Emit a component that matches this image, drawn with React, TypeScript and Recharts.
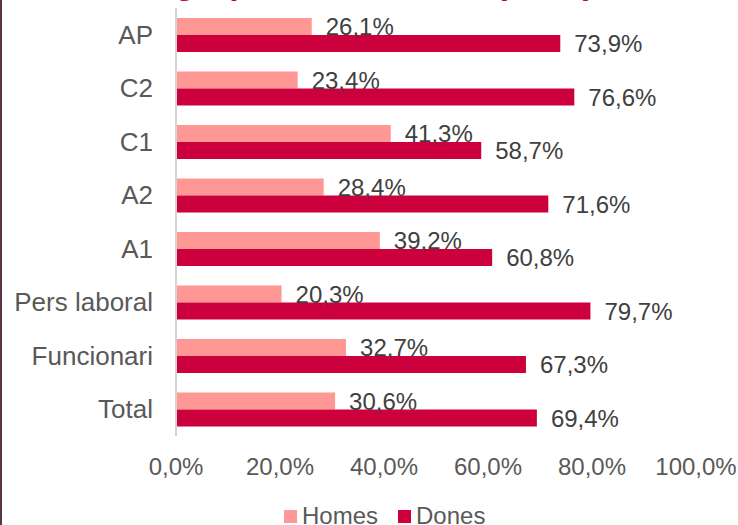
import { BarChart, Bar, XAxis, YAxis, Legend, LabelList } from "recharts";

const categories = ["AP", "C2", "C1", "A2", "A1", "Pers laboral", "Funcionari", "Total"];
const homes = [26.1, 23.4, 41.3, 28.4, 39.2, 20.3, 32.7, 30.6];
const dones = [73.9, 76.6, 58.7, 71.6, 60.8, 79.7, 67.3, 69.4];
const xTicks = [0, 20, 40, 60, 80, 100];

const data = categories.map((name, i) => ({ name, homes: homes[i], dones: dones[i] }));

const HOMES = "#FF9795";
const DONES = "#CC003D";
const FONT = "'Liberation Sans', Arial, sans-serif";

const pct = (v: number) => v.toFixed(1).replace(".", ",") + "%";

function LegendBox() {
  const items = [
    { label: "Homes", color: HOMES },
    { label: "Dones", color: DONES },
  ];
  return (
    <div
      style={{
        display: "flex",
        paddingLeft: 284,
        paddingTop: 13,
        fontFamily: FONT,
        fontSize: 24,
        lineHeight: "24px",
        color: "#595959",
      }}
    >
      {items.map((it) => (
        <div key={it.label} style={{ display: "flex", alignItems: "center", marginRight: 20 }}>
          <span style={{ width: 13, height: 13, background: it.color, marginRight: 5 }} />
          <span>{it.label}</span>
        </div>
      ))}
    </div>
  );
}

export default function App() {
  return (
    <div style={{ position: "absolute", left: 0, top: 0, width: 738, height: 525, background: "#fff", overflow: "hidden" }}>
      {/* title sits above the frame, only its descenders show */}
      <svg width={738} height={20} style={{ position: "absolute", left: 0, top: 0 }}>
        <text x={594} y={-6} textAnchor="end" fontFamily={FONT} fontSize={34} fontWeight="bold" fill={DONES}>
          Homes i dones a cada grup i nivell laboral (2019)
        </text>
      </svg>
      <div style={{ position: "absolute", left: 0, top: 0, width: 2, height: 525, background: "#5b3547" }} />
      <BarChart
        width={738}
        height={525}
        data={data}
        layout="vertical"
        margin={{ top: 8, right: 42, bottom: 0, left: 0 }}
        barGap={0}
        barSize={17}
      >
        <XAxis
          type="number"
          domain={[0, 100]}
          ticks={xTicks}
          tickFormatter={(v: number) => pct(v)}
          axisLine={false}
          tickLine={false}
          tickSize={0}
          tickMargin={22}
          height={55}
          tick={{ fontSize: 24, fill: "#595959", fontFamily: FONT }}
          interval={0}
        />
        <YAxis
          type="category"
          dataKey="name"
          width={176}
          axisLine={{ stroke: "#d4d4d4", strokeWidth: 2 }}
          tickLine={false}
          tickSize={0}
          tickMargin={23}
          tick={{ fontSize: 26, fill: "#595959", fontFamily: FONT }}
          interval={0}
        />
        <Legend verticalAlign="bottom" height={34} content={() => <LegendBox />} />
        <Bar dataKey="homes" name="Homes" fill={HOMES} isAnimationActive={false}>
          <LabelList
            dataKey="homes"
            position="right"
            offset={14}
            formatter={(v: number) => pct(v)}
            style={{ fontSize: 24, fill: "#404040", fontFamily: FONT }}
          />
        </Bar>
        <Bar dataKey="dones" name="Dones" fill={DONES} isAnimationActive={false}>
          <LabelList
            dataKey="dones"
            position="right"
            offset={14}
            formatter={(v: number) => pct(v)}
            style={{ fontSize: 24, fill: "#404040", fontFamily: FONT }}
          />
        </Bar>
      </BarChart>
    </div>
  );
}
